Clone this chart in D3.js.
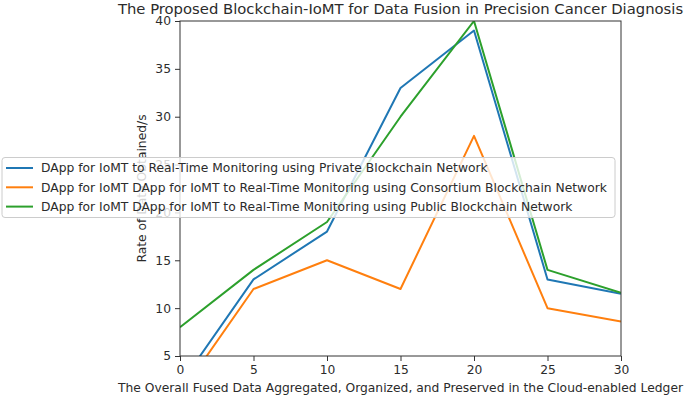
<!DOCTYPE html>
<html>
<head>
<meta charset="utf-8">
<script src="https://cdn.jsdelivr.net/npm/d3@7"></script>
<style>
  body { margin: 0; background: #fff; }
  text { font-family: "DejaVu Sans", sans-serif; fill: #2b2b2b; }
</style>
</head>
<body>
<script>
// data
var xValues = [0, 5, 10, 15, 20, 25, 30];
var privateNet = [2, 13, 18, 33, 39, 13, 11.5];
var consortiumNet = [1, 12, 15, 12, 28, 10, 8.6];
var publicNet = [8, 14, 19, 30, 40, 14, 11.6];
var seriesNames = [
    "DApp for IoMT to Real-Time Monitoring using Private Blockchain Network",
    "DApp for IoMT DApp for IoMT to Real-Time Monitoring using Consortium Blockchain Network",
    "DApp for IoMT DApp for IoMT to Real-Time Monitoring using Public Blockchain Network"
];
var colors = ["#1f77b4", "#ff7f0e", "#2ca02c"];
var xTicks = [0, 5, 10, 15, 20, 25, 30];
var yTicks = [5, 10, 15, 20, 25, 30, 35, 40];

var W = 685, H = 397;
var margin = { left: 180, right: 64, top: 21, bottom: 41 };
var width = W - margin.left - margin.right;
var height = H - margin.top - margin.bottom;
var fs = "12.3px"; // ticks, labels, legend

var root = d3.select("body").append("svg")
    .attr("width", W)
    .attr("height", H);

var svg = root.append("g")
    .attr("transform", `translate(${margin.left}, ${margin.top})`);

var x = d3.scaleLinear().domain([0, 30]).range([0, width]);
var y = d3.scaleLinear().domain([5, 40]).range([height, 0]);

svg.append("clipPath").attr("id", "clip")
    .append("rect").attr("width", width).attr("height", height);

var allSeries = [privateNet, consortiumNet, publicNet];
var line = d3.line()
    .x((d, i) => x(xValues[i]))
    .y(d => y(d));

svg.append("g").attr("clip-path", "url(#clip)")
    .selectAll("path")
    .data(allSeries)
    .enter()
    .append("path")
    .attr("d", line)
    .attr("fill", "none")
    .attr("stroke", (d, i) => colors[i])
    .attr("stroke-width", 2)
    .attr("stroke-linejoin", "round");

// axes
var xAxis = svg.append("g")
    .attr("transform", `translate(0, ${height})`)
    .call(d3.axisBottom(x).tickValues(xTicks).tickSize(5).tickPadding(4));
var yAxis = svg.append("g")
    .call(d3.axisLeft(y).tickValues(yTicks).tickSize(5).tickPadding(4));
[xAxis, yAxis].forEach(a => {
    a.select(".domain").remove();
    a.selectAll("line").attr("stroke", "#333");
    a.selectAll("text").style("font-size", fs).attr("fill", "#2b2b2b");
});

// frame
svg.append("rect")
    .attr("width", width)
    .attr("height", height)
    .attr("fill", "none")
    .attr("stroke", "#333")
    .attr("stroke-width", 1);

// title and labels
svg.append("text")
    .attr("x", width / 2)
    .attr("y", -7.5)
    .attr("text-anchor", "middle")
    .style("font-size", "14.8px")
    .text("The Proposed Blockchain-IoMT for Data Fusion in Precision Cancer Diagnosis");

svg.append("text")
    .attr("x", width / 2)
    .attr("y", height + 35.5)
    .attr("text-anchor", "middle")
    .style("font-size", fs)
    .text("The Overall Fused Data Aggregated, Organized, and Preserved in the Cloud-enabled Ledger");

svg.append("text")
    .attr("x", -(height / 2))
    .attr("y", -34)
    .attr("transform", "rotate(-90)")
    .attr("text-anchor", "middle")
    .style("font-size", fs)
    .text("Rate of Data Obtained/s");

// legend, semi-transparent like matplotlib
var legend = root.append("g").attr("transform", "translate(2, 157.5)");
legend.append("rect")
    .attr("width", 613)
    .attr("height", 60)
    .attr("rx", 3)
    .attr("fill", "#fff")
    .attr("fill-opacity", 0.8)
    .attr("stroke", "#ccc");

var rows = legend.selectAll("g.row")
    .data(seriesNames)
    .enter()
    .append("g")
    .attr("class", "row")
    .attr("transform", (d, i) => `translate(0, ${10.5 + i * 19.3})`);
rows.append("line")
    .attr("x1", 4).attr("x2", 31)
    .attr("stroke", (d, i) => colors[i])
    .attr("stroke-width", 2);
rows.append("text")
    .attr("x", 39)
    .attr("dy", "0.36em")
    .style("font-size", fs)
    .text(d => d);
</script>
</body>
</html>
